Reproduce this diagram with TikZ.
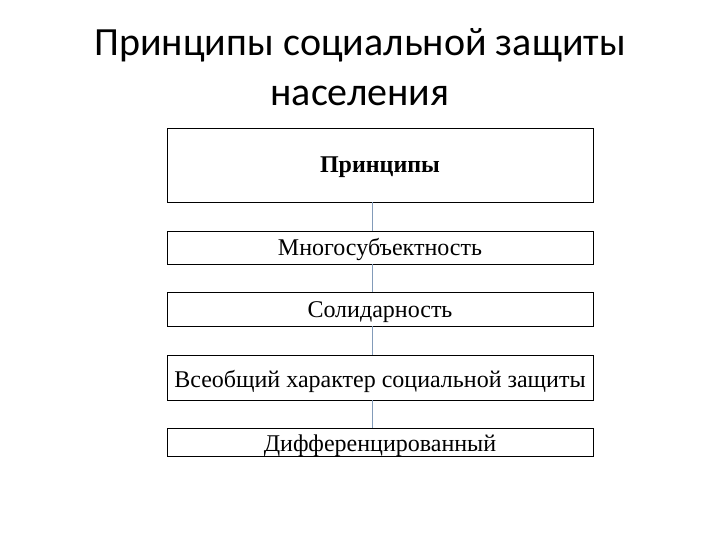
\documentclass[tikz,border=0pt]{standalone}
\usepackage{fontspec}
\setmainfont{Liberation Serif}
\newfontfamily\titlefont{Carlito}
\definecolor{conn}{RGB}{130,155,185}
\tikzset{
  box/.style={draw=black, line width=0.8pt, minimum width=426pt, inner sep=0pt},
  boxtext/.style={anchor=base, inner sep=0pt, font=\fontsize{24}{28}\selectfont},
  link/.style={draw=conn, line width=0.8pt},
  ttl/.style={font=\titlefont\fontsize{40}{48}\selectfont, anchor=base, inner sep=0pt}
}
\begin{document}
\begin{tikzpicture}[x=1pt,y=-1pt]
\useasboundingbox (0,0) rectangle (720,540);
\node[ttl] (t1) at (360,56) {Принципы социальной защиты};
\node[ttl] (t2) at (360,106) {населения};
\node[box, minimum height=74pt] (b1) at (380,165) {};
\node[box, minimum height=33pt] (b2) at (380,247.5) {};
\node[box, minimum height=34pt] (b3) at (380,309) {};
\node[box, minimum height=45pt] (b4) at (380,377.5) {};
\node[box, minimum height=28pt] (b5) at (380,442) {};
\node[boxtext, font=\bfseries\fontsize{24}{28}\selectfont] (b1t) at (380,173) {Принципы};
\node[boxtext] (b2t) at (380,255) {Многосубъектность};
\node[boxtext] (b3t) at (380,317) {Солидарность};
\node[boxtext] (b4t) at (380,387) {Всеобщий характер социальной защиты};
\node[boxtext] (b5t) at (380,451) {Дифференцированный};
\draw[link] (b1.south -| 372,0) -- (b2.north -| 372,0);
\draw[link] (b2.south -| 372,0) -- (b3.north -| 372,0);
\draw[link] (b3.south -| 372,0) -- (b4.north -| 372,0);
\draw[link] (b4.south -| 372,0) -- (b5.north -| 372,0);
\end{tikzpicture}
\end{document}
